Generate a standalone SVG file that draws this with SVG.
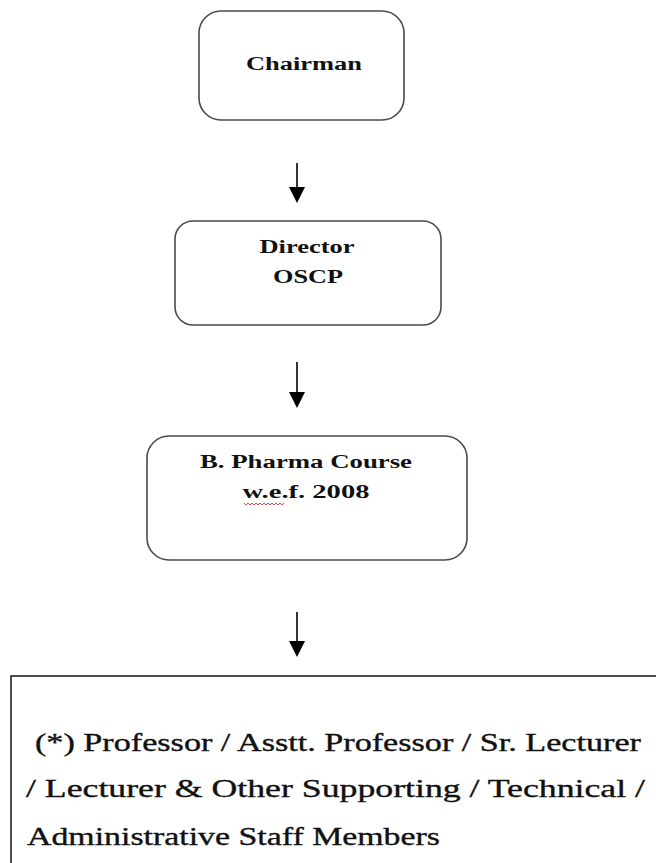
<svg xmlns="http://www.w3.org/2000/svg" width="656" height="863" viewBox="0 0 656 863">
<style>
.box{fill:#fff;stroke:#4a4a4a;stroke-width:1.6}
.t{font-family:"Liberation Serif","Times New Roman",serif;font-weight:bold;font-size:18px;fill:#111;text-anchor:middle}
.b{font-family:"Liberation Serif","Times New Roman",serif;font-weight:normal;font-size:25px;fill:#111;stroke:#111;stroke-width:0.35}
.c{stroke:#000;stroke-width:1.6;fill:none}
</style>
<rect x="0" y="0" width="656" height="863" fill="#fff"/>
<g id="connectors">
<line class="c" x1="297" y1="163" x2="297" y2="188"/>
<path d="M289,187 L305,187 L297,203 z" fill="#000"/>
<line class="c" x1="297" y1="362" x2="297" y2="393"/>
<path d="M289,392 L305,392 L297,408 z" fill="#000"/>
<line class="c" x1="297" y1="612" x2="297" y2="642"/>
<path d="M289,641 L305,641 L297,657 z" fill="#000"/>
</g>
<g id="chairman">
<rect class="box" x="199" y="11" width="205" height="109" rx="22"/>
<text class="t" x="304" y="70" textLength="116" lengthAdjust="spacingAndGlyphs">Chairman</text>
</g>
<g id="director">
<rect class="box" x="175" y="221" width="266" height="104" rx="18"/>
<text class="t" x="307" y="253" textLength="95" lengthAdjust="spacingAndGlyphs">Director</text>
<text class="t" x="308" y="283" textLength="70" lengthAdjust="spacingAndGlyphs">OSCP</text>
</g>
<g id="pharma">
<rect class="box" x="147" y="436" width="320" height="124" rx="22"/>
<text class="t" x="306" y="468" textLength="212" lengthAdjust="spacingAndGlyphs">B. Pharma Course</text>
<text class="t" x="306" y="498" textLength="127" lengthAdjust="spacingAndGlyphs">w.e.f. 2008</text>
<polyline points="244,503 246,505 248,503 250,505 252,503 254,505 256,503 258,505 260,503 262,505 264,503 266,505 268,503 270,505 272,503 274,505 276,503 278,505 280,503 282,505 284,503" fill="none" stroke="#e03030" stroke-width="0.9"/>
</g>
<g id="staff">
<rect x="11" y="676" width="700" height="250" fill="#fff" stroke="#222" stroke-width="1.6"/>
<text class="b" x="35" y="751" textLength="606" lengthAdjust="spacingAndGlyphs">(*) Professor / Asstt. Professor / Sr. Lecturer</text>
<text class="b" x="26" y="797" textLength="619" lengthAdjust="spacingAndGlyphs">/ Lecturer &amp; Other Supporting / Technical /</text>
<text class="b" x="27" y="845" textLength="413" lengthAdjust="spacingAndGlyphs">Administrative Staff Members</text>
</g>
</svg>
